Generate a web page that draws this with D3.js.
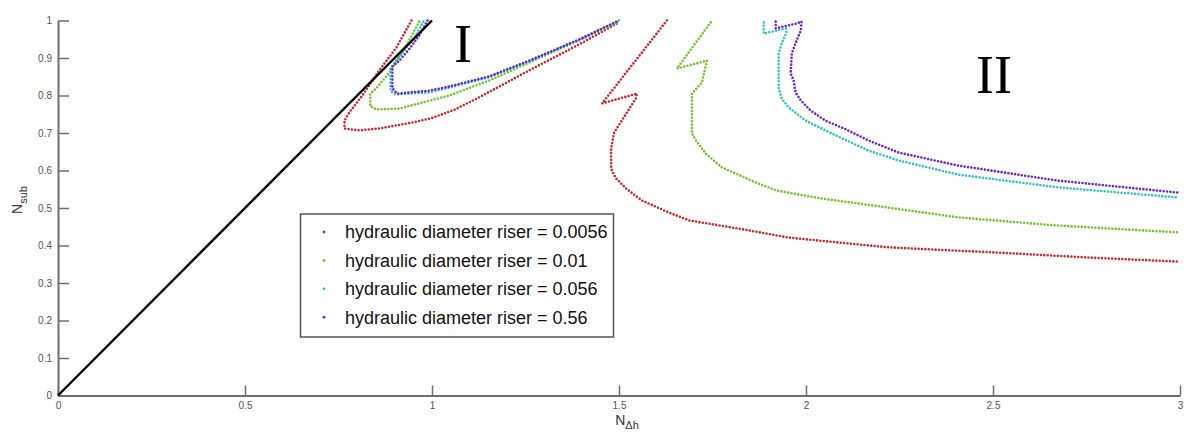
<!DOCTYPE html>
<html>
<head>
<meta charset="utf-8">
<script src="https://cdn.jsdelivr.net/npm/d3@7"></script>
<style>
body { margin: 0; background: #fff; }
text { font-family: "Liberation Sans", Arial, sans-serif; }
</style>
</head>
<body>
<div id="chart"></div>
<script>
var xTicks = [0, 0.5, 1, 1.5, 2, 2.5, 3];
var xTickLabels = ["0", "0.5", "1", "1.5", "2", "2.5", "3"];
var yTicks = [0, 0.1, 0.2, 0.3, 0.4, 0.5, 0.6, 0.7, 0.8, 0.9, 1];
var yTickLabels = ["0", "0.1", "0.2", "0.3", "0.4", "0.5", "0.6", "0.7", "0.8", "0.9", "1"];

var legendLabels = ["hydraulic diameter riser = 0.0056", "hydraulic diameter riser = 0.01",
                    "hydraulic diameter riser = 0.056", "hydraulic diameter riser = 0.56"];
var colors = ["#c62a2e", "#74c42c", "#33c2c2", "#6a26cc"];

// diagonal N_sub = N_dh
var diagonal = [[0, 0], [1, 1]];

// region I branches
var riser0056_I = [[0.945,1.0],[0.905,0.928],[0.859,0.867],[0.814,0.80],[0.779,0.755],[0.766,0.733],
  [0.766,0.712],[0.806,0.707],[0.859,0.712],[0.948,0.728],[1.0,0.74],[1.06,0.762],[1.126,0.795],[1.26,0.867],
  [1.393,0.936],[1.5,0.995]];
var riser001_I = [[0.966,0.997],[0.931,0.933],[0.886,0.861],[0.851,0.819],[0.835,0.805],[0.835,0.771],
  [0.851,0.763],[0.913,0.765],[1.046,0.8],[1.153,0.84],[1.26,0.888],[1.393,0.947],[1.5,0.997]];
var riser0056b_I = [[0.977,0.997],[0.956,0.96],[0.926,0.92],[0.9,0.888],[0.889,0.872],[0.889,0.813],
  [0.902,0.803],[0.993,0.808],[1.046,0.821],[1.153,0.849],[1.26,0.891],[1.393,0.949],[1.5,1.0]];
var riser056_I = [[0.988,1.0],[0.966,0.96],[0.94,0.925],[0.913,0.893],[0.894,0.877],[0.894,0.819],
  [0.907,0.805],[0.993,0.813],[1.046,0.824],[1.153,0.851],[1.26,0.893],[1.393,0.949],[1.5,1.0]];

// region II branches
var riser0056_II = [[1.628,1.0],[1.455,0.779],[1.548,0.805],[1.545,0.792],[1.487,0.701],[1.479,0.659],
  [1.479,0.605],[1.492,0.579],[1.519,0.552],[1.561,0.52],[1.633,0.488],[1.687,0.467],[1.82,0.445],
  [1.954,0.421],[2.087,0.408],[2.221,0.395],[2.514,0.381],[2.754,0.368],[2.995,0.357]];
var riser001_II = [[1.745,0.995],[1.655,0.872],[1.735,0.893],[1.722,0.835],[1.695,0.805],[1.695,0.699],
  [1.706,0.68],[1.732,0.645],[1.775,0.608],[1.866,0.568],[1.919,0.547],[2.042,0.525],[2.141,0.512],
  [2.407,0.475],[2.674,0.453],[2.995,0.435]];
var riser0056b_II = [[1.887,0.995],[1.887,0.965],[1.946,0.979],[1.948,0.968],[1.935,0.939],[1.927,0.912],
  [1.927,0.819],[1.935,0.792],[1.954,0.768],[1.999,0.733],[2.068,0.699],[2.167,0.653],[2.247,0.627],
  [2.407,0.589],[2.674,0.555],[2.995,0.528]];
var riser056_II = [[1.919,0.997],[1.919,0.979],[1.975,0.992],[1.988,0.997],[1.986,0.973],[1.972,0.939],
  [1.962,0.912],[1.959,0.859],[1.967,0.84],[1.972,0.808],[1.986,0.787],[2.012,0.76],[2.052,0.733],
  [2.106,0.71],[2.167,0.68],[2.247,0.648],[2.407,0.613],[2.674,0.573],[2.995,0.541]];

var series = [
  [riser0056_I, riser0056_II],
  [riser001_I, riser001_II],
  [riser0056b_I, riser0056b_II],
  [riser056_I, riser056_II]
];

var width = 1187, height = 432;

var svg = d3.select("#chart")
  .append("svg")
    .attr("width", width)
    .attr("height", height);

var x = d3.scaleLinear().domain([0, 3]).range([58, 1180]);
var y = d3.scaleLinear().domain([0, 1]).range([395.5, 20.5]);

// axes
var xAxis = svg.append("g")
  .attr("transform", "translate(0," + y(0) + ")")
  .call(d3.axisBottom(x).tickValues(xTicks)
    .tickFormat(function(d, i) { return xTickLabels[i]; })
    .tickSize(-10).tickSizeOuter(0).tickPadding(6));

var yAxis = svg.append("g")
  .attr("transform", "translate(" + x(0) + ",0)")
  .call(d3.axisLeft(y).tickValues(yTicks)
    .tickFormat(function(d, i) { return yTickLabels[i]; })
    .tickSize(-11).tickSizeOuter(0).tickPadding(6));

[xAxis, yAxis].forEach(function(a) {
  a.select(".domain").attr("stroke", "#6e6e6e").attr("stroke-width", 2);
  a.selectAll(".tick line").attr("stroke", "#6e6e6e").attr("stroke-width", 1.5);
  a.selectAll(".tick text").attr("fill", "#555").style("font-size", "10px");
});

// dotted curves
var line = d3.line()
  .x(function(d) { return x(d[0]); })
  .y(function(d) { return y(d[1]); });

series.forEach(function(branches, i) {
  svg.selectAll(null)
    .data(branches)
    .enter()
    .append("path")
      .attr("d", line)
      .attr("fill", "none")
      .attr("stroke", colors[i])
      .attr("stroke-width", 2.6)
      .attr("stroke-linecap", "round")
      .attr("stroke-dasharray", "0 3.4");
});

svg.append("path")
  .attr("d", line(diagonal))
  .attr("fill", "none")
  .attr("stroke", "#000")
  .attr("stroke-width", 2.4);

// region labels
svg.append("text")
  .attr("x", 463).attr("y", 62)
  .attr("text-anchor", "middle")
  .style("font-family", "'Liberation Serif', 'DejaVu Serif', serif")
  .style("font-size", "54px")
  .text("I");

svg.append("text")
  .attr("x", 994).attr("y", 93)
  .attr("text-anchor", "middle")
  .style("font-family", "'Liberation Serif', 'DejaVu Serif', serif")
  .style("font-size", "54px")
  .text("II");

// axis titles
var xt = svg.append("text")
  .attr("x", 627).attr("y", 425)
  .attr("text-anchor", "middle")
  .attr("fill", "#333")
  .style("font-size", "14px");
xt.append("tspan").text("N");
xt.append("tspan").attr("dy", 4).style("font-size", "11px").text("\u0394h");

var yt = svg.append("text")
  .attr("transform", "translate(22,200) rotate(-90)")
  .attr("text-anchor", "middle")
  .attr("fill", "#333")
  .style("font-size", "14px");
yt.append("tspan").text("N");
yt.append("tspan").attr("dy", 5).style("font-size", "11px").text("sub");

// legend
var legend = svg.append("g");
legend.append("rect")
  .attr("x", 300.5).attr("y", 214)
  .attr("width", 313).attr("height", 123)
  .attr("fill", "#fff")
  .attr("stroke", "#555")
  .attr("stroke-width", 1.5);

var rows = legend.selectAll("g.row")
  .data(legendLabels)
  .enter()
  .append("g")
    .attr("class", "row")
    .attr("transform", function(d, i) { return "translate(0," + (232 + i * 28.4) + ")"; });

rows.append("circle")
  .attr("cx", 324).attr("cy", 0).attr("r", 1.4)
  .attr("fill", function(d, i) { return colors[i]; });

rows.append("text")
  .attr("x", 345).attr("y", 0)
  .attr("dy", "0.35em")
  .attr("fill", "#111")
  .style("font-size", "18px")
  .text(function(d) { return d; });
</script>
</body>
</html>
